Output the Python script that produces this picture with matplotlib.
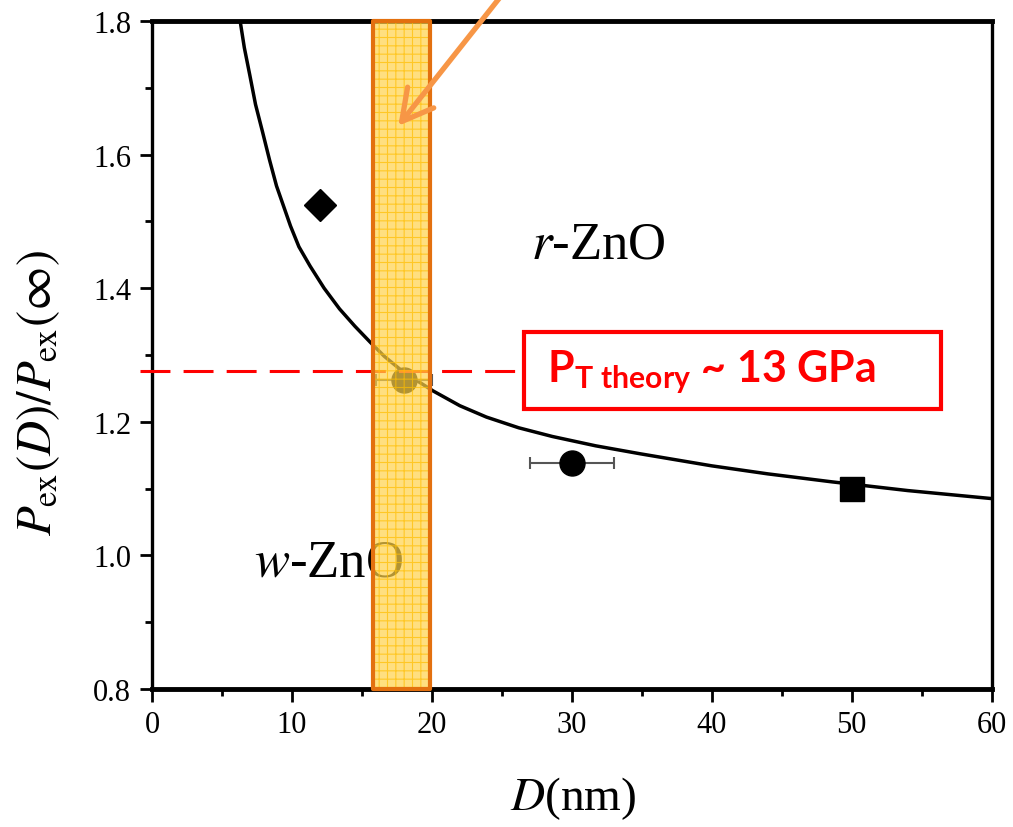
import numpy as np
import matplotlib
matplotlib.use('Agg')
import matplotlib.pyplot as plt
from matplotlib.patches import Rectangle

# curve
d_curve = [6.3, 6.6, 7.0, 7.4, 7.9, 8.4, 8.9, 9.9, 10.5, 11.3, 12.3, 13.4, 14.5, 15.6,
           16.6, 17.7, 18.9, 20.1, 22.0, 23.9, 26.2, 28.6, 31.7, 34.9, 40.0, 44.0,
           48.6, 54.0, 60.0]
p_curve = [1.800, 1.760, 1.718, 1.675, 1.634, 1.592, 1.553, 1.493, 1.462, 1.433, 1.400,
           1.369, 1.343, 1.319, 1.298, 1.279, 1.262, 1.246, 1.224, 1.207, 1.191, 1.178,
           1.164, 1.152, 1.134, 1.122, 1.110, 1.097, 1.085]

# measured points
d_diamond = [12]
p_diamond = [1.525]
d_circle = [18, 30]
p_circle = [1.262, 1.139]
d_circle_err = [2, 3]
d_square = [50]
p_square = [1.099]

band = [15.8, 19.9]
p_theory = 1.276
label_text = r'$\mathrm{P}_{\mathrm{T\ theory}}$ ~ 13 GPa'

plt.rcParams['font.family'] = ['Liberation Serif', 'DejaVu Serif']
plt.rcParams['mathtext.fontset'] = 'custom'
plt.rcParams['mathtext.rm'] = 'Lato:bold'
plt.rcParams['mathtext.it'] = 'Lato:bold'
plt.rcParams['mathtext.bf'] = 'Lato:bold'
plt.rcParams['hatch.linewidth'] = 0.8

fig = plt.figure(figsize=(10.13, 8.28), dpi=100)
ax = fig.add_axes([0.150, 0.1667, 0.829, 0.8068])

ax.plot(d_curve, p_curve, color='black', lw=2.5, zorder=3, solid_capstyle='round')
ax.errorbar(d_circle, p_circle, xerr=d_circle_err, fmt='o', ms=18, color='black',
            ecolor='#555555', elinewidth=1.5, capsize=4, capthick=1.5, zorder=4)
ax.plot(d_diamond, p_diamond, 'D', ms=16, color='black', zorder=4)
ax.plot(d_square, p_square, 's', ms=17, color='black', zorder=4)

ax.text(31.9, 1.466, r'$r$-ZnO', fontsize=38, ha='center', va='center',
        math_fontfamily='stix', zorder=2)
ax.text(7.3, 0.99, r'$w$-ZnO', fontsize=38, ha='left', va='center',
        math_fontfamily='stix', zorder=2)

# highlighted band
ax.add_patch(Rectangle((band[0], 0.8), band[1] - band[0], 1.0, facecolor='#FFD24A',
                       alpha=0.7, edgecolor='#FFBE00', lw=0, hatch='++', zorder=6))
ax.add_patch(Rectangle((band[0], 0.8), band[1] - band[0], 1.0, facecolor='none',
                       edgecolor='#E3700F', lw=3, joinstyle='round', zorder=7,
                       clip_on=False))

# dashed theory line and box
ax.plot([-0.86, 26.6], [p_theory, p_theory], color='red', lw=2.2,
        dashes=(9.8, 4.3), clip_on=False, zorder=5)
ax.add_patch(Rectangle((26.6, 1.219), 56.4 - 26.6, 1.334 - 1.219, facecolor='white',
                       edgecolor='red', lw=3, zorder=8))
ax.text(28.2, 1.261, label_text, color='red', fontsize=31, family='Lato',
        fontweight='bold', va='baseline', ha='left', zorder=9)

ax.annotate('', xy=(17.6, 1.643), xytext=(505, 836), textcoords='figure pixels',
            arrowprops=dict(arrowstyle='->,head_length=1.1,head_width=0.6',
                            color='#F79646', lw=3.8, mutation_scale=20,
                            shrinkA=0, shrinkB=0),
            annotation_clip=False, zorder=10)

ax.set_xlim(0, 60)
ax.set_ylim(0.8, 1.8)
ax.set_xticks([0, 10, 20, 30, 40, 50, 60])
ax.set_xticks(np.arange(5, 60, 10), minor=True)
ax.set_yticks([0.8, 1.0, 1.2, 1.4, 1.6, 1.8])
ax.set_yticks([0.9, 1.1, 1.3, 1.5, 1.7], minor=True)
ax.set_yticklabels(['0.8', '1.0', '1.2', '1.4', '1.6', '1.8'])
ax.tick_params(which='major', direction='out', length=9, width=2, labelsize=22, pad=6)
ax.tick_params(which='minor', direction='out', length=5, width=2)
for s in ax.spines.values():
    s.set_linewidth(2.4)
ax.spines['top'].set_linewidth(3.5)
ax.spines['bottom'].set_linewidth(3.5)

ax.set_xlabel(r'$D$(nm)', fontsize=34, math_fontfamily='stix')
ax.xaxis.set_label_coords(0.501, -0.127)
ax.set_ylabel(r'$P_{\mathrm{ex}}(D)/P_{\mathrm{ex}}(\infty)$', fontsize=35,
              math_fontfamily='stix')
ax.yaxis.set_label_coords(-0.107, 0.445)

fig.savefig('out.png', dpi=100)
